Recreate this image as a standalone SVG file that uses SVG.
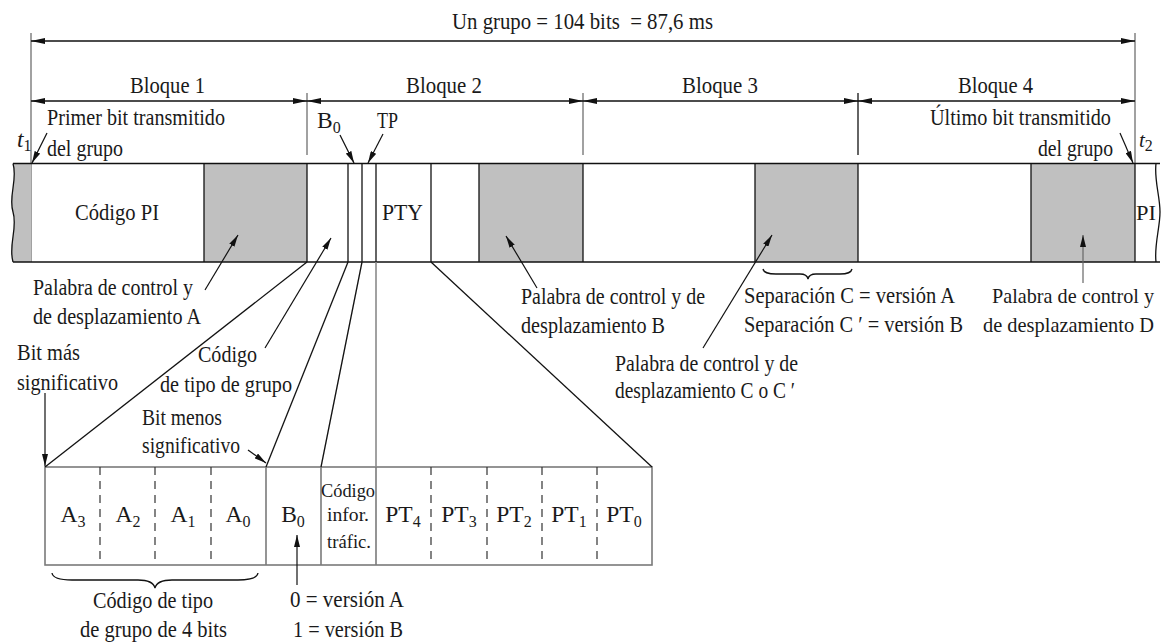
<svg xmlns="http://www.w3.org/2000/svg" width="1161" height="643" viewBox="0 0 1161 643">
<style>
  text { font-family: "Liberation Serif", "Times New Roman", serif; font-size: 23.5px; fill: #1a1a1a; }
  .sm { font-size: 19px; }
  .nr { font-size: 21px; }
  .sub { font-size: 16px; }
  .it { font-style: italic; }
  .ln { stroke: #111; stroke-width: 1.3; fill: none; }
  .gl { stroke: #8a8a8a; stroke-width: 1.6; fill: none; }
  .bx { stroke: #7a7a7a; stroke-width: 1.6; fill: none; }
  .dash { stroke: #333; stroke-width: 1.2; stroke-dasharray: 8 6; fill: none; }
  .gray { fill: #c0c0c0; }
  .dim { stroke: #111; stroke-width: 1.6; fill: none; marker-start: url(#ah); marker-end: url(#ah); }
  .ptr { stroke: #111; stroke-width: 1.2; fill: none; marker-end: url(#ap); }
</style>
<defs>
  <marker id="ah" viewBox="0 0 14 6" refX="14" refY="3" markerWidth="14" markerHeight="6" orient="auto-start-reverse" markerUnits="userSpaceOnUse">
    <path d="M0,0 L14,3 L0,6 Z" fill="#111"/>
  </marker>
  <marker id="ap" viewBox="0 0 12 6" refX="12" refY="3" markerWidth="12" markerHeight="6" orient="auto" markerUnits="userSpaceOnUse">
    <path d="M0,0 L12,3 L0,6 Z" fill="#111"/>
  </marker>
</defs>
<rect x="0" y="0" width="1161" height="643" fill="#ffffff"/>

<!-- Dimension lines -->
<g id="dimensions">
  <line class="gl" x1="31" y1="33" x2="31" y2="262"/>
  <line class="gl" x1="1135" y1="33" x2="1135" y2="164"/>
  <line class="gl" x1="307" y1="93" x2="307" y2="155"/>
  <line class="gl" x1="583" y1="93" x2="583" y2="155"/>
  <line class="ln" x1="858" y1="93" x2="858" y2="155"/>
  <line class="dim" x1="31" y1="41" x2="1135" y2="41"/>
  <line class="dim" x1="31" y1="101" x2="307" y2="101"/>
  <line class="dim" x1="307" y1="101" x2="583" y2="101"/>
  <line class="dim" x1="583" y1="101" x2="858" y2="101"/>
  <line class="dim" x1="858" y1="101" x2="1135" y2="101"/>
  <text x="452" y="29" textLength="261" lengthAdjust="spacingAndGlyphs">Un grupo = 104 bits &#160;= 87,6 ms</text>
  <text x="130" y="93" textLength="75" lengthAdjust="spacingAndGlyphs">Bloque 1</text>
  <text x="406" y="93" textLength="76" lengthAdjust="spacingAndGlyphs">Bloque 2</text>
  <text x="682" y="93" textLength="76" lengthAdjust="spacingAndGlyphs">Bloque 3</text>
  <text x="958" y="93" textLength="75" lengthAdjust="spacingAndGlyphs">Bloque 4</text>
</g>

<!-- Group bar -->
<g id="bar">
  <path class="gray" d="M13,163.5 L31,163.5 L31,262 L13,262 C8,245 18,228 13,212 C8,196 18,180 13,163.5 Z"/>
  <rect class="gray" x="204" y="163.5" width="103" height="98.5"/>
  <rect class="gray" x="479" y="163.5" width="104" height="98.5"/>
  <rect class="gray" x="755" y="163.5" width="103" height="98.5"/>
  <rect class="gray" x="1031" y="163.5" width="104" height="98.5"/>
  <line class="ln" x1="13" y1="163.5" x2="1160" y2="163.5"/>
  <line class="ln" x1="13" y1="262" x2="1160" y2="262"/>
  <path class="ln" d="M13,163.5 C18,180 8,196 13,212 C18,228 8,245 13,262"/>
  <path class="ln" d="M1156,163.5 C1154,180 1160,196 1160,212 C1160,228 1154,245 1156,262"/>
  <line class="ln" x1="204" y1="163.5" x2="204" y2="262"/>
  <line class="ln" x1="307" y1="163.5" x2="307" y2="262"/>
  <line class="ln" x1="348" y1="163.5" x2="348" y2="262"/>
  <line class="ln" x1="362" y1="163.5" x2="362" y2="262"/>
  <line class="ln" x1="376" y1="163.5" x2="376" y2="262"/>
  <line class="ln" x1="431" y1="163.5" x2="431" y2="262"/>
  <line class="ln" x1="479" y1="163.5" x2="479" y2="262"/>
  <line class="ln" x1="583" y1="163.5" x2="583" y2="262"/>
  <line class="ln" x1="755" y1="163.5" x2="755" y2="262"/>
  <line class="ln" x1="858" y1="163.5" x2="858" y2="262"/>
  <line class="ln" x1="1031" y1="163.5" x2="1031" y2="262"/>
  <line class="ln" x1="1135" y1="163.5" x2="1135" y2="262"/>
  <text x="75" y="220" textLength="84" lengthAdjust="spacingAndGlyphs">Código PI</text>
  <text x="382" y="220" textLength="41" lengthAdjust="spacingAndGlyphs">PTY</text>
  <text class="nr" x="1136" y="220" textLength="20" lengthAdjust="spacingAndGlyphs">PI</text>
</g>

<!-- Expanded block 2 detail -->
<g id="detail">
  <rect class="bx" x="45" y="467" width="607" height="98"/>
  <line class="dash" x1="100" y1="467" x2="100" y2="565"/>
  <line class="dash" x1="155" y1="467" x2="155" y2="565"/>
  <line class="dash" x1="211" y1="467" x2="211" y2="565"/>
  <line class="bx" x1="266" y1="467" x2="266" y2="565"/>
  <line class="bx" x1="321" y1="467" x2="321" y2="565"/>
  <line class="bx" x1="376" y1="467" x2="376" y2="565"/>
  <line class="dash" x1="431" y1="467" x2="431" y2="565"/>
  <line class="dash" x1="487" y1="467" x2="487" y2="565"/>
  <line class="dash" x1="542" y1="467" x2="542" y2="565"/>
  <line class="dash" x1="597" y1="467" x2="597" y2="565"/>
  <text x="73" y="522" text-anchor="middle">A<tspan class="sub" dy="5">3</tspan></text>
  <text x="128" y="522" text-anchor="middle">A<tspan class="sub" dy="5">2</tspan></text>
  <text x="183" y="522" text-anchor="middle">A<tspan class="sub" dy="5">1</tspan></text>
  <text x="238" y="522" text-anchor="middle">A<tspan class="sub" dy="5">0</tspan></text>
  <text x="293" y="522" text-anchor="middle">B<tspan class="sub" dy="5">0</tspan></text>
  <text class="sm" x="348" y="497" text-anchor="middle" textLength="54" lengthAdjust="spacingAndGlyphs">Código</text>
  <text class="sm" x="348" y="521" text-anchor="middle" textLength="42" lengthAdjust="spacingAndGlyphs">infor.</text>
  <text class="sm" x="349" y="548" text-anchor="middle" textLength="44" lengthAdjust="spacingAndGlyphs">tráfic.</text>
  <text x="403" y="522" text-anchor="middle">PT<tspan class="sub" dy="5">4</tspan></text>
  <text x="459" y="522" text-anchor="middle">PT<tspan class="sub" dy="5">3</tspan></text>
  <text x="514" y="522" text-anchor="middle">PT<tspan class="sub" dy="5">2</tspan></text>
  <text x="569" y="522" text-anchor="middle">PT<tspan class="sub" dy="5">1</tspan></text>
  <text x="624" y="522" text-anchor="middle">PT<tspan class="sub" dy="5">0</tspan></text>
</g>

<!-- Connectors -->
<g id="connectors">
  <line class="ln" x1="307" y1="262" x2="45" y2="467"/>
  <line class="ln" x1="348" y1="262" x2="266" y2="467"/>
  <line class="ln" x1="362" y1="262" x2="321" y2="467"/>
  <line class="gl" x1="376" y1="262" x2="376" y2="467"/>
  <line class="ln" x1="431" y1="262" x2="652" y2="467"/>
  <line class="ptr" x1="47" y1="133" x2="32" y2="163"/>
  <line class="ptr" x1="1120" y1="133" x2="1133" y2="163"/>
  <line class="ptr" x1="340" y1="135" x2="354" y2="163"/>
  <line class="ptr" x1="383" y1="134" x2="368" y2="163"/>
  <line class="ptr" x1="205" y1="290" x2="238" y2="235"/>
  <line class="ptr" x1="265" y1="348" x2="331" y2="238"/>
  <line class="ptr" x1="537" y1="288" x2="506" y2="236"/>
  <line class="ptr" x1="703" y1="348" x2="772" y2="235"/>
  <line class="ptr" x1="1083" y1="283" x2="1083" y2="235" style="stroke:#666"/>
  <line class="ptr" x1="45" y1="393" x2="45" y2="466"/>
  <line class="ptr" x1="248" y1="450" x2="266" y2="463"/>
  <line class="ptr" x1="297" y1="585" x2="297" y2="535"/>
  <path class="ln" d="M52,573 Q53,580 72,580 L138,580 Q153,580 155,588 Q157,580 172,580 L238,580 Q257,580 258,573"/>
  <path class="ln" d="M763,269 Q764,274 776,274 L800,274 Q807,274 808,279 Q809,274 816,274 L840,274 Q851,274 852,269"/>
</g>

<!-- Labels -->
<g id="labels">
  <text class="it" x="17" y="147">t<tspan class="sub" dy="4" style="font-style:normal">1</tspan></text>
  <text class="it nr" x="1139" y="147">t<tspan class="sub" dy="4" style="font-style:normal">2</tspan></text>
  <text x="47" y="125" textLength="178" lengthAdjust="spacingAndGlyphs">Primer bit transmitido</text>
  <text x="47" y="156" textLength="76" lengthAdjust="spacingAndGlyphs">del grupo</text>
  <text x="930" y="125" textLength="181" lengthAdjust="spacingAndGlyphs">Último bit transmitido</text>
  <text x="1038" y="156" textLength="75" lengthAdjust="spacingAndGlyphs">del grupo</text>
  <text x="317" y="128">B<tspan class="sub" dy="5">0</tspan></text>
  <text x="377" y="128" textLength="21" lengthAdjust="spacingAndGlyphs">TP</text>
  <text x="33" y="295" textLength="160" lengthAdjust="spacingAndGlyphs">Palabra de control y</text>
  <text x="33" y="324" textLength="168" lengthAdjust="spacingAndGlyphs">de desplazamiento A</text>
  <text x="17" y="360" textLength="63" lengthAdjust="spacingAndGlyphs">Bit más</text>
  <text x="17" y="390" textLength="101" lengthAdjust="spacingAndGlyphs">significativo</text>
  <text x="198" y="362" textLength="59" lengthAdjust="spacingAndGlyphs">Código</text>
  <text x="160" y="392" textLength="132" lengthAdjust="spacingAndGlyphs">de tipo de grupo</text>
  <text x="142" y="425" textLength="80" lengthAdjust="spacingAndGlyphs">Bit menos</text>
  <text x="142" y="453" textLength="98" lengthAdjust="spacingAndGlyphs">significativo</text>
  <text x="521" y="304" textLength="184" lengthAdjust="spacingAndGlyphs">Palabra de control y de</text>
  <text x="521" y="333" textLength="144" lengthAdjust="spacingAndGlyphs">desplazamiento B</text>
  <text x="744" y="303" textLength="211" lengthAdjust="spacingAndGlyphs">Separación C = versión A</text>
  <text x="744" y="332" textLength="219" lengthAdjust="spacingAndGlyphs">Separación C ′ = versión B</text>
  <text x="615" y="371" textLength="183" lengthAdjust="spacingAndGlyphs">Palabra de control y de</text>
  <text x="615" y="398" textLength="180" lengthAdjust="spacingAndGlyphs">desplazamiento C o C ′</text>
  <text class="nr" x="992" y="303" textLength="162" lengthAdjust="spacingAndGlyphs">Palabra de control y</text>
  <text class="nr" x="983" y="332" textLength="171" lengthAdjust="spacingAndGlyphs">de desplazamiento D</text>
  <text x="93" y="608" textLength="120" lengthAdjust="spacingAndGlyphs">Código de tipo</text>
  <text x="80" y="637" textLength="147" lengthAdjust="spacingAndGlyphs">de grupo de 4 bits</text>
  <text x="290" y="607" textLength="114" lengthAdjust="spacingAndGlyphs">0 = versión A</text>
  <text x="293" y="637" textLength="110" lengthAdjust="spacingAndGlyphs">1 = versión B</text>
</g>
</svg>
